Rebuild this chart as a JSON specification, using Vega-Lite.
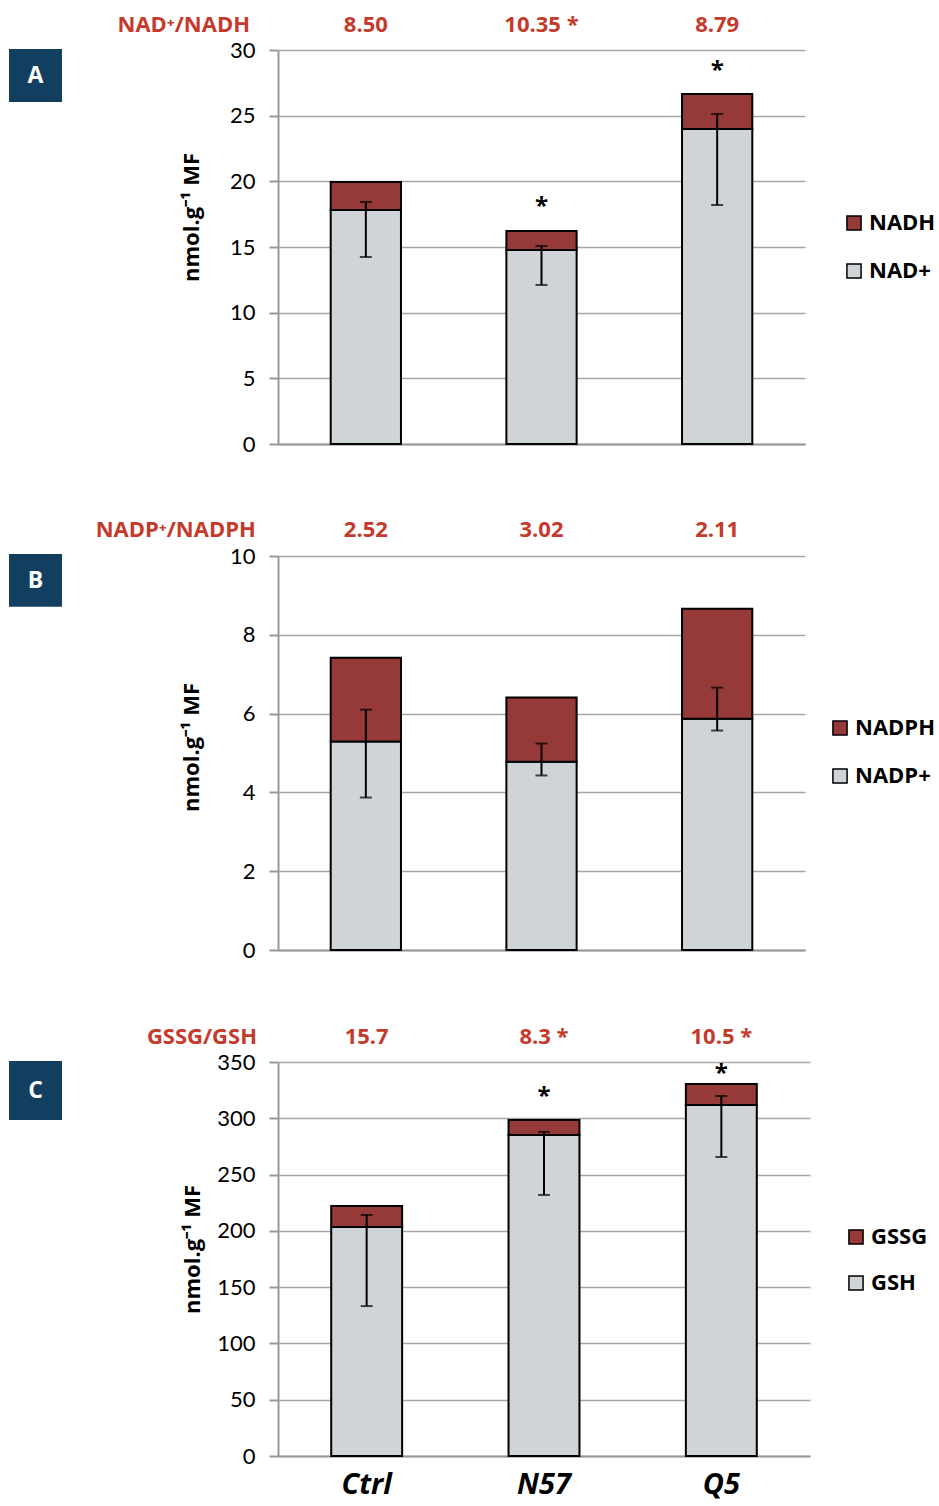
{
  "$schema": "https://vega.github.io/schema/vega-lite/v6.json",
  "padding": {"left": 9, "top": 14, "right": 2, "bottom": 8},
  "background": "white",
  "config": {
    "font": "Lato",
    "view": {"stroke": null},
    "axis": {"labelFont": "Lato", "titleFont": "Open Sans", "domainColor": "#999999", "domainWidth": 2, "tickColor": "#999999", "tickWidth": 2, "gridColor": "#A6A6A6", "gridWidth": 1.5, "labelColor": "#000000", "titleColor": "#000000"},
    "legend": {"labelFont": "Open Sans", "labelFontSize": 22, "labelFontWeight": "bold", "labelColor": "#000000", "symbolType": "square", "symbolSize": 200, "symbolStrokeColor": "#000000", "symbolStrokeWidth": 1.5, "rowPadding": 26, "labelOffset": 4, "orient": "none"},
    "text": {"font": "Open Sans", "fontWeight": "bold"}
  },
  "bounds": "flush",
  "spacing": 112,
  "resolve": {"scale": {"x": "independent", "y": "independent", "color": "independent"}},
  "vconcat": [
    {
      "width": 527,
      "height": 394,
      "resolve": {"scale": {"x": "independent"}},
      "layer": [
        {
          "layer": [
            {
              "data": {"values": [
                {"g": "Ctrl", "c": "NAD+", "v": 17.82, "o": 1},
                {"g": "Ctrl", "c": "NADH", "v": 2.13, "o": 2},
                {"g": "N57", "c": "NAD+", "v": 14.77, "o": 1},
                {"g": "N57", "c": "NADH", "v": 1.45, "o": 2},
                {"g": "Q5", "c": "NAD+", "v": 23.98, "o": 1},
                {"g": "Q5", "c": "NADH", "v": 2.67, "o": 2}
              ]},
              "mark": {"type": "bar", "stroke": "#000000", "strokeWidth": 2},
              "encoding": {
                "x": {"field": "g", "type": "nominal", "scale": {"domain": ["Ctrl", "N57", "Q5"], "paddingInner": 0.6, "paddingOuter": 0.3}, "axis": {"labels": false, "ticks": false, "title": null}},
                "y": {"field": "v", "type": "quantitative", "stack": "zero", "scale": {"domain": [0, 30], "nice": false}, "axis": {"values": [0, 5, 10, 15, 20, 25, 30], "title": "nmol.g⁻¹ MF", "titleFontSize": 22, "titleFontWeight": "bold", "titlePadding": 26, "titleY": 167, "labelFontSize": 22, "labelPadding": 14, "tickSize": 9}},
                "color": {"field": "c", "type": "nominal", "scale": {"domain": ["NADH", "NAD+"], "range": ["#953A38", "#CFD4D7"]}, "legend": {"title": null, "orient": "none", "legendX": 565, "legendY": 162}},
                "order": {"field": "o"}
              }
            },
            {
              "data": {"values": [
                {"g": "Ctrl", "lo": 14.24, "hi": 18.43},
                {"g": "N57", "lo": 12.11, "hi": 15.08},
                {"g": "Q5", "lo": 18.2, "hi": 25.13}
              ]},
              "layer": [
                {"mark": {"type": "rule", "color": "#000000", "strokeWidth": 2}, "encoding": {"x": {"field": "g", "type": "nominal"}, "y": {"field": "lo", "type": "quantitative"}, "y2": {"field": "hi"}}},
                {"mark": {"type": "tick", "color": "#000000", "size": 12, "thickness": 2}, "encoding": {"x": {"field": "g", "type": "nominal"}, "y": {"field": "lo", "type": "quantitative"}}},
                {"mark": {"type": "tick", "color": "#000000", "size": 12, "thickness": 2}, "encoding": {"x": {"field": "g", "type": "nominal"}, "y": {"field": "hi", "type": "quantitative"}}}
              ]
            },
            {
              "data": {"values": [
                {"g": "N57", "y": 18.05, "t": "*"},
                {"g": "Q5", "y": 28.4, "t": "*"}
              ]},
              "mark": {"type": "text", "fontSize": 24, "color": "#000000", "baseline": "middle"},
              "encoding": {"x": {"field": "g", "type": "nominal"}, "y": {"field": "y", "type": "quantitative"}, "text": {"field": "t"}}
            },
            {
              "data": {"values": [
                {"g": "Ctrl", "y": 31.9, "t": "8.50"},
                {"g": "N57", "y": 31.9, "t": "10.35 *"},
                {"g": "Q5", "y": 31.9, "t": "8.79"}
              ]},
              "mark": {"type": "text", "fontSize": 22, "color": "#C43A2C", "baseline": "middle"},
              "encoding": {"x": {"field": "g", "type": "nominal"}, "y": {"field": "y", "type": "quantitative"}, "text": {"field": "t"}}
            }
          ]
        },
        {
          "layer": [
            {
              "data": {"values": [{"x1": -0.5104, "x2": -0.4099, "y1": 30.08, "y2": 26.04}]},
              "mark": {"type": "rect", "color": "#123E5F"},
              "encoding": {"x": {"field": "x1", "type": "quantitative", "scale": {"domain": [0, 1], "nice": false, "zero": false}, "axis": null}, "x2": {"field": "x2"}, "y": {"field": "y1", "type": "quantitative"}, "y2": {"field": "y2"}}
            },
            {
              "data": {"values": [{"x": -0.4602, "y": 28.02, "t": "A"}]},
              "mark": {"type": "text", "fontSize": 23, "color": "#FFFFFF", "baseline": "middle"},
              "encoding": {"x": {"field": "x", "type": "quantitative"}, "y": {"field": "y", "type": "quantitative"}, "text": {"field": "t"}}
            },
            {
              "data": {"values": [{"x": -0.0531, "y": 31.9, "t": "NAD⁺/NADH"}]},
              "mark": {"type": "text", "fontSize": 22, "color": "#C43A2C", "baseline": "middle", "align": "right"},
              "encoding": {"x": {"field": "x", "type": "quantitative"}, "y": {"field": "y", "type": "quantitative"}, "text": {"field": "t"}}
            }
          ]
        }
      ]
    },
    {
      "width": 527,
      "height": 394,
      "resolve": {"scale": {"x": "independent"}},
      "layer": [
        {
          "layer": [
            {
              "data": {"values": [
                {"g": "Ctrl", "c": "NADP+", "v": 5.29, "o": 1},
                {"g": "Ctrl", "c": "NADPH", "v": 2.13, "o": 2},
                {"g": "N57", "c": "NADP+", "v": 4.78, "o": 1},
                {"g": "N57", "c": "NADPH", "v": 1.63, "o": 2},
                {"g": "Q5", "c": "NADP+", "v": 5.87, "o": 1},
                {"g": "Q5", "c": "NADPH", "v": 2.79, "o": 2}
              ]},
              "mark": {"type": "bar", "stroke": "#000000", "strokeWidth": 2},
              "encoding": {
                "x": {"field": "g", "type": "nominal", "scale": {"domain": ["Ctrl", "N57", "Q5"], "paddingInner": 0.6, "paddingOuter": 0.3}, "axis": {"labels": false, "ticks": false, "title": null}},
                "y": {"field": "v", "type": "quantitative", "stack": "zero", "scale": {"domain": [0, 10], "nice": false}, "axis": {"values": [0, 2, 4, 6, 8, 10], "title": "nmol.g⁻¹ MF", "titleFontSize": 22, "titleFontWeight": "bold", "titlePadding": 26, "titleY": 191, "labelFontSize": 22, "labelPadding": 14, "tickSize": 9}},
                "color": {"field": "c", "type": "nominal", "scale": {"domain": ["NADPH", "NADP+"], "range": ["#953A38", "#CFD4D7"]}, "legend": {"title": null, "orient": "none", "legendX": 551, "legendY": 161}},
                "order": {"field": "o"}
              }
            },
            {
              "data": {"values": [
                {"g": "Ctrl", "lo": 3.87, "hi": 6.1},
                {"g": "N57", "lo": 4.43, "hi": 5.24},
                {"g": "Q5", "lo": 5.57, "hi": 6.66}
              ]},
              "layer": [
                {"mark": {"type": "rule", "color": "#000000", "strokeWidth": 2}, "encoding": {"x": {"field": "g", "type": "nominal"}, "y": {"field": "lo", "type": "quantitative"}, "y2": {"field": "hi"}}},
                {"mark": {"type": "tick", "color": "#000000", "size": 12, "thickness": 2}, "encoding": {"x": {"field": "g", "type": "nominal"}, "y": {"field": "lo", "type": "quantitative"}}},
                {"mark": {"type": "tick", "color": "#000000", "size": 12, "thickness": 2}, "encoding": {"x": {"field": "g", "type": "nominal"}, "y": {"field": "hi", "type": "quantitative"}}}
              ]
            },
            {
              "data": {"values": [
                {"g": "Ctrl", "y": 10.66, "t": "2.52"},
                {"g": "N57", "y": 10.66, "t": "3.02"},
                {"g": "Q5", "y": 10.66, "t": "2.11"}
              ]},
              "mark": {"type": "text", "fontSize": 22, "color": "#C43A2C", "baseline": "middle"},
              "encoding": {"x": {"field": "g", "type": "nominal"}, "y": {"field": "y", "type": "quantitative"}, "text": {"field": "t"}}
            }
          ]
        },
        {
          "layer": [
            {
              "data": {"values": [{"x1": -0.5104, "x2": -0.4099, "y1": 10.05, "y2": 8.71}]},
              "mark": {"type": "rect", "color": "#123E5F"},
              "encoding": {"x": {"field": "x1", "type": "quantitative", "scale": {"domain": [0, 1], "nice": false, "zero": false}, "axis": null}, "x2": {"field": "x2"}, "y": {"field": "y1", "type": "quantitative"}, "y2": {"field": "y2"}}
            },
            {
              "data": {"values": [{"x": -0.4602, "y": 9.36, "t": "B"}]},
              "mark": {"type": "text", "fontSize": 23, "color": "#FFFFFF", "baseline": "middle"},
              "encoding": {"x": {"field": "x", "type": "quantitative"}, "y": {"field": "y", "type": "quantitative"}, "text": {"field": "t"}}
            },
            {
              "data": {"values": [{"x": -0.042, "y": 10.66, "t": "NADP⁺/NADPH"}]},
              "mark": {"type": "text", "fontSize": 22, "color": "#C43A2C", "baseline": "middle", "align": "right"},
              "encoding": {"x": {"field": "x", "type": "quantitative"}, "y": {"field": "y", "type": "quantitative"}, "text": {"field": "t"}}
            }
          ]
        }
      ]
    },
    {
      "width": 532,
      "height": 394,
      "resolve": {"scale": {"x": "independent"}},
      "layer": [
        {
          "layer": [
            {
              "data": {"values": [
                {"g": "Ctrl", "c": "GSH", "v": 203.4, "o": 1},
                {"g": "Ctrl", "c": "GSSG", "v": 18.7, "o": 2},
                {"g": "N57", "c": "GSH", "v": 285.2, "o": 1},
                {"g": "N57", "c": "GSSG", "v": 13.3, "o": 2},
                {"g": "Q5", "c": "GSH", "v": 311.8, "o": 1},
                {"g": "Q5", "c": "GSSG", "v": 18.7, "o": 2}
              ]},
              "mark": {"type": "bar", "stroke": "#000000", "strokeWidth": 2},
              "encoding": {
                "x": {"field": "g", "type": "nominal", "scale": {"domain": ["Ctrl", "N57", "Q5"], "paddingInner": 0.6, "paddingOuter": 0.3}, "axis": {"ticks": false, "title": null, "labelAngle": 0, "labelFont": "Open Sans", "labelFontSize": 29, "labelFontWeight": "bold", "labelFontStyle": "italic", "labelPadding": 14}},
                "y": {"field": "v", "type": "quantitative", "stack": "zero", "scale": {"domain": [0, 350], "nice": false}, "axis": {"values": [0, 50, 100, 150, 200, 250, 300, 350], "title": "nmol.g⁻¹ MF", "titleFontSize": 22, "titleFontWeight": "bold", "titlePadding": 12, "titleY": 187, "labelFontSize": 22, "labelPadding": 14, "tickSize": 9}},
                "color": {"field": "c", "type": "nominal", "scale": {"domain": ["GSSG", "GSH"], "range": ["#953A38", "#CFD4D7"]}, "legend": {"title": null, "orient": "none", "legendX": 567, "legendY": 164, "rowPadding": 24}},
                "order": {"field": "o"}
              }
            },
            {
              "data": {"values": [
                {"g": "Ctrl", "lo": 133.2, "hi": 214.1},
                {"g": "N57", "lo": 231.9, "hi": 287.8},
                {"g": "Q5", "lo": 265.6, "hi": 319.8}
              ]},
              "layer": [
                {"mark": {"type": "rule", "color": "#000000", "strokeWidth": 2}, "encoding": {"x": {"field": "g", "type": "nominal"}, "y": {"field": "lo", "type": "quantitative"}, "y2": {"field": "hi"}}},
                {"mark": {"type": "tick", "color": "#000000", "size": 12, "thickness": 2}, "encoding": {"x": {"field": "g", "type": "nominal"}, "y": {"field": "lo", "type": "quantitative"}}},
                {"mark": {"type": "tick", "color": "#000000", "size": 12, "thickness": 2}, "encoding": {"x": {"field": "g", "type": "nominal"}, "y": {"field": "hi", "type": "quantitative"}}}
              ]
            },
            {
              "data": {"values": [
                {"g": "N57", "y": 318.9, "t": "*"},
                {"g": "Q5", "y": 339.3, "t": "*"}
              ]},
              "mark": {"type": "text", "fontSize": 24, "color": "#000000", "baseline": "middle"},
              "encoding": {"x": {"field": "g", "type": "nominal"}, "y": {"field": "y", "type": "quantitative"}, "text": {"field": "t"}}
            },
            {
              "data": {"values": [
                {"g": "Ctrl", "y": 372, "t": "15.7"},
                {"g": "N57", "y": 372, "t": "8.3 *"},
                {"g": "Q5", "y": 372, "t": "10.5 *"}
              ]},
              "mark": {"type": "text", "fontSize": 22, "color": "#C43A2C", "baseline": "middle"},
              "encoding": {"x": {"field": "g", "type": "nominal"}, "y": {"field": "y", "type": "quantitative"}, "text": {"field": "t"}}
            }
          ]
        },
        {
          "layer": [
            {
              "data": {"values": [{"x1": -0.5056, "x2": -0.406, "y1": 350.9, "y2": 298.5}]},
              "mark": {"type": "rect", "color": "#123E5F"},
              "encoding": {"x": {"field": "x1", "type": "quantitative", "scale": {"domain": [0, 1], "nice": false, "zero": false}, "axis": null}, "x2": {"field": "x2"}, "y": {"field": "y1", "type": "quantitative"}, "y2": {"field": "y2"}}
            },
            {
              "data": {"values": [{"x": -0.4558, "y": 324.2, "t": "C"}]},
              "mark": {"type": "text", "fontSize": 23, "color": "#FFFFFF", "baseline": "middle"},
              "encoding": {"x": {"field": "x", "type": "quantitative"}, "y": {"field": "y", "type": "quantitative"}, "text": {"field": "t"}}
            },
            {
              "data": {"values": [{"x": -0.0395, "y": 372, "t": "GSSG/GSH"}]},
              "mark": {"type": "text", "fontSize": 22, "color": "#C43A2C", "baseline": "middle", "align": "right"},
              "encoding": {"x": {"field": "x", "type": "quantitative"}, "y": {"field": "y", "type": "quantitative"}, "text": {"field": "t"}}
            }
          ]
        }
      ]
    }
  ]
}
